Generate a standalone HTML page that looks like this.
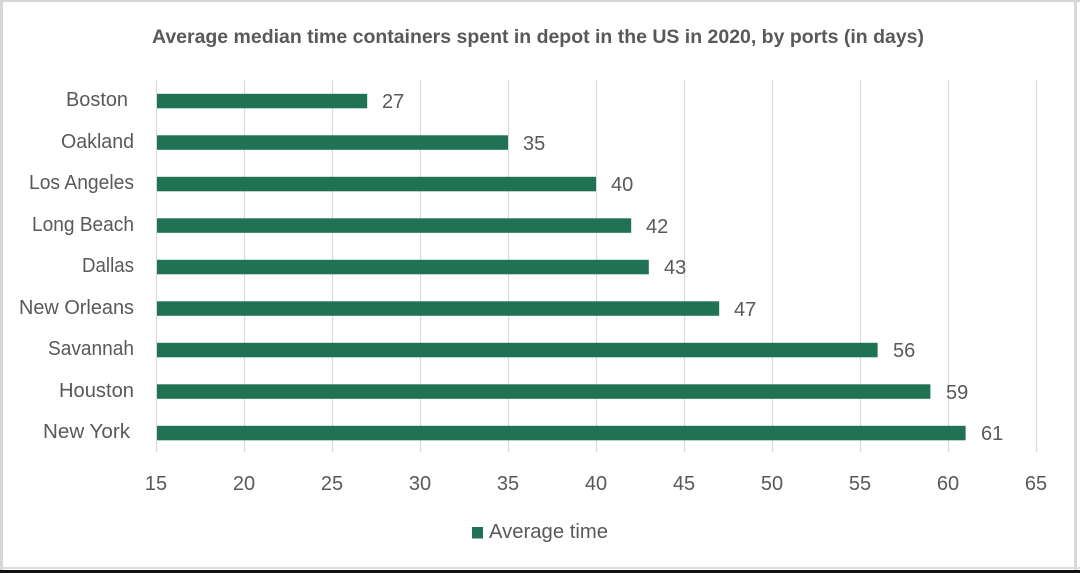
<!DOCTYPE html>
<html>
<head>
<meta charset="utf-8">
<style>
  html,body{margin:0;padding:0;background:#fff;}
  body{width:1080px;height:573px;overflow:hidden;position:relative;}
  svg{position:absolute;left:0;top:0;}
  text{font-family:"Liberation Sans",sans-serif;fill:#595959;}
</style>
</head>
<body>
<svg width="1080" height="573" viewBox="0 0 1080 573" xmlns="http://www.w3.org/2000/svg">
  <rect x="0" y="0" width="1080" height="573" fill="#ffffff"/>
  <!-- frame -->
  <rect x="0" y="0" width="1080" height="2" fill="#d6d6d6"/>
  <rect x="0" y="0" width="3" height="573" fill="#d6d6d6"/>
  <rect x="1074" y="0" width="3" height="573" fill="#d9d9d9"/>
  <rect x="0" y="567" width="1080" height="2" fill="#dcdcdc"/>
  <rect x="0" y="570" width="1080" height="3" fill="#111111"/>

  <!-- title -->
  <text x="152" y="43" font-size="19" font-weight="bold" textLength="772" lengthAdjust="spacingAndGlyphs">Average median time containers spent in depot in the US in 2020, by ports (in days)</text>

  <!-- gridlines -->
  <g stroke="#d9d9d9" stroke-width="1.2">
    <line x1="156.5" y1="80" x2="156.5" y2="452"/>
    <line x1="244.5" y1="80" x2="244.5" y2="452"/>
    <line x1="332.5" y1="80" x2="332.5" y2="452"/>
    <line x1="420.5" y1="80" x2="420.5" y2="452"/>
    <line x1="508.5" y1="80" x2="508.5" y2="452"/>
    <line x1="596.5" y1="80" x2="596.5" y2="452"/>
    <line x1="684.5" y1="80" x2="684.5" y2="452"/>
    <line x1="772.5" y1="80" x2="772.5" y2="452"/>
    <line x1="860.5" y1="80" x2="860.5" y2="452"/>
    <line x1="948.5" y1="80" x2="948.5" y2="452"/>
    <line x1="1036.5" y1="80" x2="1036.5" y2="452"/>
  </g>

  <!-- bars -->
  <g fill="#1f7253">
    <rect x="157" y="93.8" width="210.2" height="14.5"/>
    <rect x="157" y="135.3" width="351" height="14.5"/>
    <rect x="157" y="176.8" width="439" height="14.5"/>
    <rect x="157" y="218.3" width="474.2" height="14.5"/>
    <rect x="157" y="259.8" width="491.8" height="14.5"/>
    <rect x="157" y="301.3" width="562.2" height="14.5"/>
    <rect x="157" y="342.8" width="720.6" height="14.5"/>
    <rect x="157" y="384.3" width="773.4" height="14.5"/>
    <rect x="157" y="425.8" width="808.6" height="14.5"/>
  </g>

  <!-- category labels -->
  <g font-size="20">
    <text x="66" y="106" textLength="62" lengthAdjust="spacingAndGlyphs">Boston</text>
    <text x="61" y="148" textLength="73" lengthAdjust="spacingAndGlyphs">Oakland</text>
    <text x="29" y="189" textLength="105" lengthAdjust="spacingAndGlyphs">Los Angeles</text>
    <text x="32" y="231" textLength="102" lengthAdjust="spacingAndGlyphs">Long Beach</text>
    <text x="82" y="272" textLength="52" lengthAdjust="spacingAndGlyphs">Dallas</text>
    <text x="19" y="314" textLength="115" lengthAdjust="spacingAndGlyphs">New Orleans</text>
    <text x="48" y="355" textLength="86" lengthAdjust="spacingAndGlyphs">Savannah</text>
    <text x="59" y="397" textLength="75" lengthAdjust="spacingAndGlyphs">Houston</text>
    <text x="43" y="438" textLength="87" lengthAdjust="spacingAndGlyphs">New York</text>
  </g>

  <!-- value labels -->
  <g font-size="20" fill="#404040">
    <text x="382" y="108">27</text>
    <text x="523" y="150">35</text>
    <text x="611" y="191">40</text>
    <text x="646" y="233">42</text>
    <text x="664" y="274">43</text>
    <text x="734" y="316">47</text>
    <text x="893" y="357">56</text>
    <text x="946" y="399">59</text>
    <text x="981" y="440">61</text>
  </g>

  <!-- x tick labels -->
  <g font-size="20" text-anchor="middle">
    <text x="156" y="490">15</text>
    <text x="244" y="490">20</text>
    <text x="332" y="490">25</text>
    <text x="420" y="490">30</text>
    <text x="508" y="490">35</text>
    <text x="596" y="490">40</text>
    <text x="684" y="490">45</text>
    <text x="772" y="490">50</text>
    <text x="860" y="490">55</text>
    <text x="948" y="490">60</text>
    <text x="1036" y="490">65</text>
  </g>

  <!-- legend -->
  <rect x="472" y="527" width="11" height="11.5" fill="#1f7253"/>
  <text x="489" y="538" font-size="20" textLength="119" lengthAdjust="spacingAndGlyphs">Average time</text>
</svg>
</body>
</html>
